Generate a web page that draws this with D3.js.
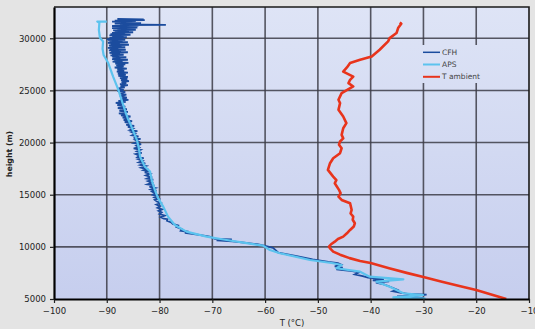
<!DOCTYPE html>
<html><head><meta charset="utf-8">
<script src="https://cdn.jsdelivr.net/npm/d3@7/dist/d3.min.js"></script>
<style>html,body{margin:0;padding:0;background:#e4e4e4;}svg{display:block;}</style>
</head><body>
<svg id="chart" width="535" height="329"></svg>
<script>
// ---- data: [temperature °C, height m] ----
const xTicks = [-100, -90, -80, -70, -60, -50, -40, -30, -20, -10];
const yTicks = [5000, 10000, 15000, 20000, 25000, 30000];
const seriesNames = ["CFH", "APS", "T ambient"];

const cfh = [
[-88.0,31850],[-83.0,31820],[-87.5,31780],[-82.8,31740],[-88.5,31700],[-84.5,31650],[-89.0,31600],[-85.0,31550],
[-88.0,31500],[-83.5,31450],[-88.5,31400],[-85.0,31350],[-87.5,31320],[-78.8,31290],[-87.0,31260],[-84.0,31220],
[-89.0,31180],[-85.5,31130],[-88.5,31080],[-84.2,31030],[-89.0,30980],[-85.0,30930],[-88.0,30880],[-84.5,30820],
[-88.8,30760],[-85.8,30700],[-88.5,30640],[-85.0,30580],[-89.0,30520],[-86.5,30460],[-89.3,30400],[-85.5,30340],
[-89.5,30280],[-86.8,30220],[-89.0,30160],[-86.2,30100],[-89.5,30040],[-87.0,29980],[-90.0,29920],[-86.5,29860],
[-89.8,29800],[-87.0,29740],[-89.5,29680],[-86.0,29620],[-89.8,29560],[-87.5,29500],[-89.3,29440],[-85.8,29380],
[-89.6,29320],[-87.2,29260],[-89.5,29200],[-86.5,29140],[-89.8,29080],[-87.8,29020],[-89.4,28960],[-86.4,28900],
[-89.6,28840],[-87.3,28780],[-89.2,28720],[-86.0,28660],[-89.5,28600],[-87.5,28540],[-89.0,28480],[-86.8,28420],
[-89.3,28360],[-87.6,28300],[-89.0,28240],[-86.3,28180],[-88.8,28120],[-87.4,28060],[-89.0,28000],[-86.0,27940],
[-88.6,27880],[-87.0,27820],[-88.9,27760],[-85.9,27640],[-88.4,27580],[-86.5,27500],[-88.2,27400],[-86.8,27300],
[-88.5,27200],[-86.2,27100],[-88.0,27000],[-86.7,26900],[-88.1,26800],[-86.0,26700],[-87.9,26600],[-86.4,26500],
[-87.8,26400],[-86.0,26300],[-87.5,26180],[-86.1,26100],[-87.3,26000],[-85.8,25900],[-87.2,25800],[-86.3,25700],
[-87.5,25600],[-86.0,25500],[-87.4,25400],[-86.6,25300],[-87.8,25200],[-86.8,25060],[-88.0,24950],[-86.5,24850],
[-87.6,24700],[-86.3,24600],[-87.5,24450],[-86.2,24300],[-87.4,24200],[-85.9,24100],
[-87.8,24000],[-86.4,23900],[-88.3,23800],[-86.9,23700],[-88.0,23600],[-86.5,23450],[-87.9,23300],[-86.2,23200],
[-87.6,23050],[-86.0,22950],[-87.7,22800],[-86.4,22700],[-87.3,22600],[-85.5,22500],[-87.0,22400],[-85.8,22300],
[-86.8,22150],[-85.2,22050],[-86.6,21950],[-85.4,21850],[-86.3,21700],[-84.8,21600],[-86.0,21500],[-85.0,21350],
[-85.6,21200],[-84.2,21100],[-85.3,21000],[-84.6,20850],[-85.2,20700],[-84.0,20600],[-84.9,20450],[-83.6,20350],
[-84.6,20250],[-84.0,20100],[-84.8,19950],[-83.5,19850],[-84.4,19700],[-83.9,19550],[-84.9,19450],[-83.6,19300],
[-84.3,19150],[-83.4,19000],[-84.5,18900],[-83.8,18750],[-84.2,18600],[-83.0,18500],[-84.0,18400],[-83.2,18250],
[-83.9,18100],[-82.7,18000],[-83.6,17850],[-82.6,17750],[-83.5,17600],[-82.5,17450],[-83.0,17350],[-81.9,17250],
[-82.8,17150],[-81.8,17000],[-82.6,16850],[-81.7,16700],[-82.4,16550],[-81.2,16450],[-82.2,16300],[-81.5,16150],
[-82.3,16000],[-81.0,15900],[-81.9,15750],[-80.8,15650],[-81.6,15500],[-80.6,15400],[-81.4,15300],[-80.9,15150],
[-81.3,15000],[-80.4,14900],[-81.0,14750],[-80.2,14600],[-80.9,14500],[-80.5,14350],[-79.8,14200],[-80.6,14050],
[-79.9,13900],[-80.4,13750],[-79.5,13600],[-80.2,13450],[-79.6,13300],[-80.0,13150],[-79.0,13000],[-79.8,12850],
[-79.2,12700],[-78.5,12650],[-78.6,12500],[-77.8,12350],[-77.5,12200],[-76.5,12050],[-76.8,11900],[-75.8,11700],
[-76.0,11550],[-74.5,11450],[-75.2,11350],[-72.5,11150],[-70.5,10980],[-69.5,10760],[-66.3,10720],[-69.2,10620],
[-66.2,10520],[-64.0,10400],[-61.5,10250],[-60.0,10100],[-58.5,9900],[-57.5,9450],[-54.0,9100],[-51.0,8800],
[-48.0,8550],[-46.2,8450],[-45.6,8300],[-46.8,8120],[-45.3,8000],[-46.5,7850],[-43.5,7680],[-42.2,7550],
[-43.0,7350],[-41.5,7200],[-40.5,7050],[-37.5,6900],[-39.6,6800],[-36.5,6700],[-39.0,6580],[-37.5,6400],
[-36.2,6150],[-35.0,5900],[-35.8,5750],[-34.2,5580],[-33.0,5500],[-29.4,5420],[-31.5,5330],[-35.0,5250],
[-33.0,5150],[-30.0,5100]
];

const aps = [
[-90.0,31600],[-91.8,31600],[-91.4,31500],[-91.5,30800],[-91.3,30050],[-90.7,29700],[-90.8,29000],[-90.6,28400],
[-89.7,27600],[-88.8,26330],[-87.8,25060],[-87.2,24100],[-86.5,23000],[-86.0,22300],[-85.6,21860],[-84.3,20260],
[-83.9,19400],[-83.7,18660],[-82.8,17700],[-81.8,17220],[-81.5,16420],[-80.9,15460],[-80.3,14700],[-79.6,14100],
[-79.3,13860],[-78.4,12900],[-77.1,12100],[-74.9,11460],[-71.1,10980],[-67.3,10660],[-63.5,10350],[-60.4,10120],
[-59.1,9700],[-57.2,9390],[-51.5,8740],[-47.1,8430],[-45.5,8260],[-46.5,7950],[-42.0,7620],[-40.2,7140],
[-33.8,6890],[-38.9,6660],[-36.4,6180],[-33.8,5550],[-30.1,5380],[-35.7,5150],[-29.6,5050]
];

const tAmbient = [
[-14.3,5000],[-17.0,5400],[-20.0,5860],[-23.0,6230],[-26.5,6650],[-30.0,7110],[-33.0,7480],[-36.5,7950],
[-40.0,8450],[-42.0,8650],[-44.0,8920],[-45.8,9250],[-47.1,9540],[-47.6,9800],[-47.9,10020],[-47.5,10250],
[-46.8,10500],[-46.2,10750],[-45.2,10980],[-44.5,11300],[-43.9,11620],[-43.2,11950],[-43.0,12260],[-43.4,12600],
[-43.3,12900],[-43.8,13200],[-43.6,13540],[-43.9,14180],[-45.5,14500],[-46.1,14820],[-45.7,15150],[-46.0,15460],
[-46.8,16100],[-46.5,16400],[-47.1,16740],[-48.1,17380],[-47.7,18020],[-47.1,18500],[-45.8,18980],[-45.5,19460],
[-46.0,19800],[-45.8,20100],[-45.2,20400],[-45.5,20740],[-45.2,21380],[-44.6,21860],[-45.2,22500],[-46.1,23140],
[-45.8,23780],[-46.1,24100],[-45.5,24740],[-43.3,25380],[-44.2,25700],[-43.9,26020],[-43.3,26330],[-45.2,26810],
[-44.5,27200],[-43.9,27620],[-42.0,27940],[-39.8,28250],[-38.3,28900],[-36.7,29700],[-36.4,30020],[-35.1,30500],
[-34.8,30980],[-34.2,31400],[-34.5,31500]
];

const colors = ["#1b4c9e", "#5cc3ee", "#e8341c"];

// ---- drawing ----
const svg = d3.select("#chart");
const L = 54, R = 529, T = 7, B = 299;
const x = d3.scaleLinear().domain([-100, -10]).range([L, R]);
const y = d3.scaleLinear().domain([5000, 33000]).range([B, T]);

const defs = svg.append("defs");
const grad = defs.append("linearGradient").attr("id", "bg")
  .attr("gradientUnits", "userSpaceOnUse").attr("x1", 0).attr("y1", T).attr("x2", 0).attr("y2", B);
grad.append("stop").attr("offset", "0").attr("stop-color", "#dee4f6");
grad.append("stop").attr("offset", "1").attr("stop-color", "#c6ceee");
defs.append("clipPath").attr("id", "clip").append("rect")
  .attr("x", L).attr("y", T).attr("width", R - L).attr("height", B - T);

svg.append("rect").attr("x", L).attr("y", T).attr("width", R - L).attr("height", B - T).attr("fill", "url(#bg)");

// grid
const grid = svg.append("g").attr("stroke", "#3c3c46").attr("stroke-width", 1.6).attr("stroke-opacity", 0.85);
grid.selectAll("line.v").data(xTicks.slice(1, -1)).join("line")
  .attr("x1", d => x(d)).attr("x2", d => x(d)).attr("y1", T).attr("y2", B);
grid.selectAll("line.h").data(yTicks.slice(1)).join("line")
  .attr("x1", L).attr("x2", R).attr("y1", d => y(d)).attr("y2", d => y(d));

// legend background (covers the grid)
svg.append("rect").attr("x", 414).attr("y", 45).attr("width", 72).attr("height", 38).attr("fill", "url(#bg)");

// series
const line = d3.line().x(d => x(d[0])).y(d => y(d[1]));
const plot = svg.append("g").attr("clip-path", "url(#clip)");
plot.append("path").datum(cfh).attr("d", line).attr("fill", "none")
  .attr("stroke", colors[0]).attr("stroke-width", 1.8).attr("stroke-linejoin", "miter");
plot.append("path").datum(aps).attr("d", line).attr("fill", "none")
  .attr("stroke", colors[1]).attr("stroke-width", 2.2).attr("stroke-linejoin", "round");
plot.append("path").datum(tAmbient).attr("d", line).attr("fill", "none")
  .attr("stroke", colors[2]).attr("stroke-width", 2.6).attr("stroke-linejoin", "round");

// border (top, right)
svg.append("path").attr("d", `M${L},${T}H${R}V${B}`).attr("fill", "none")
  .attr("stroke", "#1a1a1a").attr("stroke-width", 1.6);

// axes
const fontF = "'DejaVu Sans', sans-serif";
const gx = svg.append("g").attr("transform", `translate(0,${B})`)
  .call(d3.axisBottom(x).tickValues(xTicks).tickSize(4).tickPadding(5).tickSizeOuter(0));
const gy = svg.append("g").attr("transform", `translate(${L},0)`)
  .call(d3.axisLeft(y).tickValues(yTicks).tickSize(4).tickPadding(4).tickSizeOuter(0).tickFormat(d3.format("d")));
[gx, gy].forEach(g => {
  g.select(".domain").attr("stroke", "#000").attr("stroke-width", 2.2);
  g.selectAll(".tick line").attr("stroke", "#222").attr("stroke-width", 1.2);
  g.selectAll(".tick text").attr("fill", "#222").style("font-family", fontF).style("font-size", "8.5px");
});

// axis titles
svg.append("text").attr("x", 292).attr("y", 326).attr("text-anchor", "middle")
  .style("font-family", fontF).style("font-size", "8.5px").attr("fill", "#222").text("T (°C)");
svg.append("text").attr("transform", "translate(12,154) rotate(-90)").attr("text-anchor", "middle")
  .style("font-family", fontF).style("font-size", "7.8px").style("font-weight", "bold").attr("fill", "#222")
  .text("height (m)");

// legend
const leg = svg.append("g");
const legY = [52.3, 64.5, 76.8];
seriesNames.forEach((name, i) => {
  leg.append("line").attr("x1", 423).attr("x2", 440).attr("y1", legY[i]).attr("y2", legY[i])
    .attr("stroke", colors[i]).attr("stroke-width", i === 0 ? 1.5 : 2);
  leg.append("text").attr("x", 442).attr("y", legY[i]).attr("dy", "0.35em")
    .style("font-family", fontF).style("font-size", "7.5px").attr("fill", "#444").text(name);
});
</script>
</body></html>
